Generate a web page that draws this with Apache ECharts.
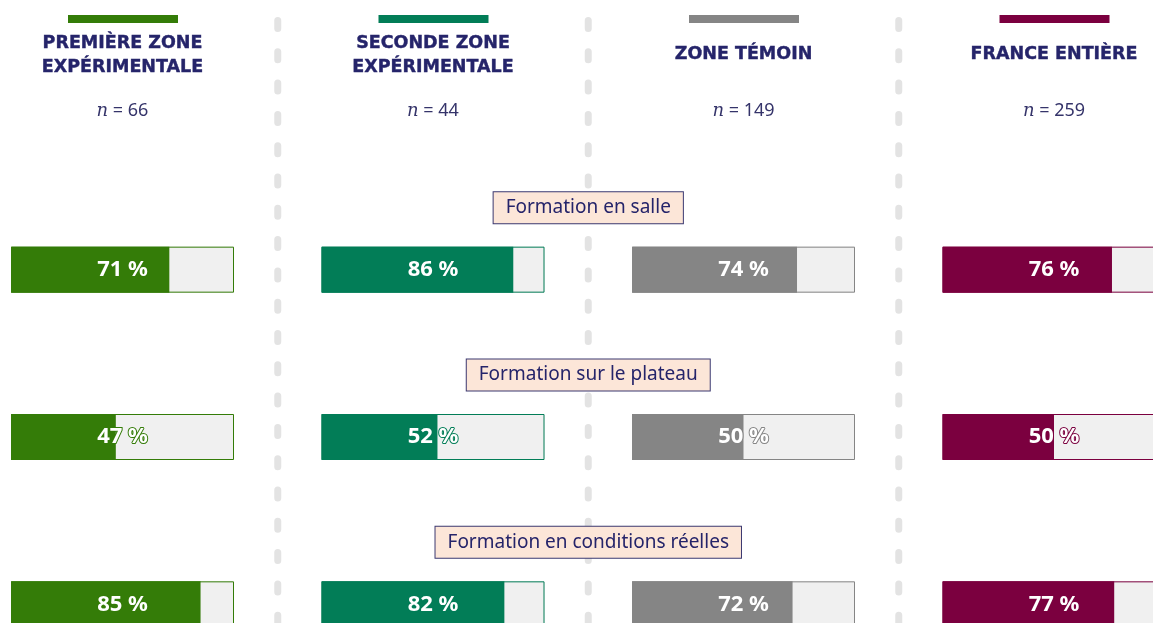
<!DOCTYPE html>
<html>
<head>
<meta charset="utf-8">
<script src="https://cdn.jsdelivr.net/npm/echarts@6/dist/echarts.min.js"></script>
<style>
  html, body { margin: 0; padding: 0; background: #fff; }
  #chart { width: 1153px; height: 623px; }
</style>
</head>
<body>
<div id="chart"></div>
<script>
// zones (colonnes)
const zones = ['PREMIÈRE ZONE\nEXPÉRIMENTALE', 'SECONDE ZONE\nEXPÉRIMENTALE', 'ZONE TÉMOIN', 'FRANCE ENTIÈRE']
const effectifs = [66, 44, 149, 259]
const couleurs = ['#347c08', '#027d57', '#858585', '#7b003f']

// types de formation (lignes)
const formations = ['Formation en salle', 'Formation sur le plateau', 'Formation en conditions réelles']

// % par zone, dans l'ordre des formations
const premiereZone = [71, 47, 85]
const secondeZone = [86, 52, 82]
const zoneTemoin = [74, 50, 72]
const franceEntiere = [76, 50, 77]
const valeurs = [premiereZone, secondeZone, zoneTemoin, franceEntiere]

const NAVY = '#25246a'
const colLeft = 11, colStep = 310.5, colWidth = 223

const chart = echarts.init(document.getElementById('chart'), null, { renderer: 'canvas' })

const grids = [], xAxes = [], yAxes = [], series = [], legends = []
zones.forEach((z, i) => {
  const name = z.replace('\n', ' ')
  grids.push({ left: colLeft + i * colStep, width: colWidth, top: 186, height: 502, outerBoundsMode: 'none', containLabel: false })
  xAxes.push({ gridIndex: i, type: 'value', min: 0, max: 100, show: false })
  yAxes.push({ gridIndex: i, type: 'category', data: formations, inverse: true, show: false })
  // fond gris
  series.push({
    type: 'bar', xAxisIndex: i, yAxisIndex: i, silent: true, barWidth: 46, barGap: '-100%',
    itemStyle: { color: '#f0f0f0' }, data: formations.map(() => 100), z: 1
  })
  // valeur
  series.push({
    name: name, type: 'bar', xAxisIndex: i, yAxisIndex: i, silent: true, barWidth: 46, barGap: '-100%',
    itemStyle: { color: couleurs[i] }, data: valeurs[i], z: 2
  })
  // cadre + étiquette centrée
  series.push({
    type: 'bar', xAxisIndex: i, yAxisIndex: i, silent: true, barWidth: 46, barGap: '-100%',
    itemStyle: { color: 'transparent', borderColor: couleurs[i], borderWidth: 1 },
    data: formations.map(() => 100), z: 3,
    label: {
      show: true, position: 'inside',
      formatter: p => valeurs[i][p.dataIndex] + ' %',
      color: '#fff', fontFamily: 'Noto Sans', fontWeight: 'bold', fontSize: 22,
      textBorderColor: couleurs[i], textBorderWidth: 2
    }
  })
  // trait de couleur en tête de colonne
  legends.push({
    data: [name], left: 68 + i * colStep, top: 15, padding: 0, itemWidth: 110, itemHeight: 8,
    icon: 'rect', selectedMode: false, formatter: () => '', itemGap: 0
  })
})

chart.setOption({
  animation: false,
  grid: grids, xAxis: xAxes, yAxis: yAxes, series: series, legend: legends
})

// textes et séparateurs, placés d'après les axes
const graphics = []
const ySep = []
for (let i = 0; i < zones.length; i++) {
  const cx = chart.convertToPixel({ gridIndex: i }, [50, formations[0]])[0]
  const deuxLignes = zones[i].indexOf('\n') >= 0
  graphics.push({
    type: 'text', x: cx, y: deuxLignes ? 55 : 54, z: 10,
    style: {
      text: zones[i], align: 'center', verticalAlign: 'middle',
      fontFamily: 'DejaVu Sans', fontWeight: 'bold', fontSize: 17.5, lineHeight: 24, fill: NAVY,
      stroke: NAVY, lineWidth: 0.4
    }
  })
  graphics.push({
    type: 'text', x: cx, y: 111, z: 10,
    style: {
      text: '{i|n} = ' + effectifs[i], align: 'center', verticalAlign: 'middle',
      fontFamily: 'Noto Sans', fontSize: 18, fill: '#35346a',
      rich: { i: { fontFamily: 'DejaVu Serif', fontStyle: 'italic', fontSize: 18, fill: '#35346a' } }
    }
  })
  if (i > 0) {
    const prevRight = chart.convertToPixel({ gridIndex: i - 1 }, [100, formations[0]])[0]
    const left = chart.convertToPixel({ gridIndex: i }, [0, formations[0]])[0]
    ySep.push((prevRight + left) / 2)
  }
}
ySep.forEach(x => {
  graphics.push({
    type: 'line', z: 0, silent: true,
    shape: { x1: x, y1: 20.5, x2: x, y2: 640 },
    style: { stroke: '#e3e3e3', lineWidth: 7, lineCap: 'round', lineDash: [8, 23.3] }
  })
})
const midX = ySep[1]
formations.forEach(f => {
  const y = chart.convertToPixel({ gridIndex: 0 }, [0, f])[1]
  graphics.push({
    type: 'text', x: midX, y: y - 62, z: 20,
    style: {
      text: f, align: 'center', verticalAlign: 'middle',
      fontFamily: 'Noto Sans', fontSize: 19, fill: NAVY,
      backgroundColor: '#fce6d8', borderColor: '#3b3870', borderWidth: 1,
      padding: [6, 12, 6, 12]
    }
  })
})
chart.setOption({ graphic: graphics })
</script>
</body>
</html>
